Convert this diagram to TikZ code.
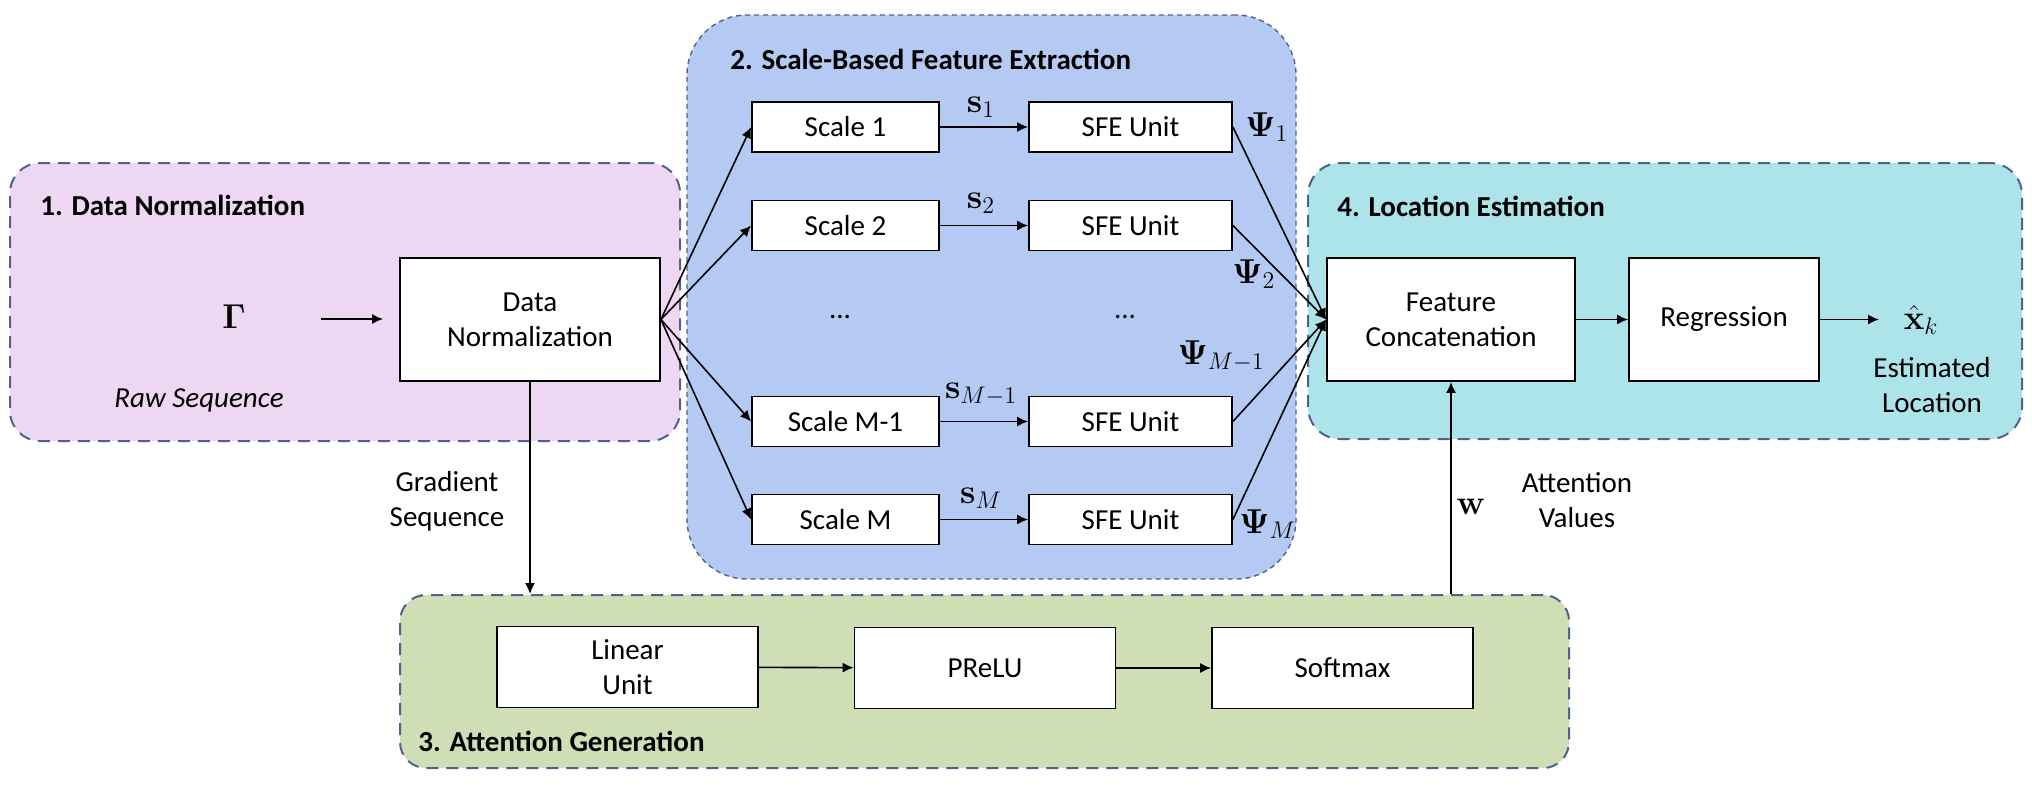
\documentclass[tikz,border=0pt]{standalone}
\usepackage{amsmath,bm}
\usepackage[no-math]{fontspec}
\setmainfont{Carlito}
\usetikzlibrary{arrows.meta,fit}
\definecolor{pinkfill}{HTML}{EED7F3}
\definecolor{bluefill}{HTML}{B4CAF2}
\definecolor{cyanfill}{HTML}{ACE4EA}
\definecolor{greenfill}{HTML}{CFDEB5}
\definecolor{grpline}{HTML}{4F6289}
\begin{document}
\begin{tikzpicture}[x=0.5pt,y=-0.5pt,
  font=\fontsize{14.5}{17.5}\selectfont,
  blk/.style={draw=black, line width=0.9pt, fill=white, inner sep=0pt, align=center},
  scbox/.style={blk, minimum width=93.5pt, minimum height=25pt},
  sfebox/.style={blk, minimum width=101.5pt, minimum height=25pt},
  bigbox/.style={blk, minimum height=61.5pt},
  agbox/.style={blk, minimum width=130.5pt, minimum height=40.5pt},
  grp/.style={draw=grpline, dash pattern=on 6pt off 4pt, line width=1pt, inner sep=0pt},
  grpfine/.style={draw=grpline, dash pattern=on 2.5pt off 2pt, line width=0.7pt, inner sep=0pt},
  arr/.style={-{Latex[length=5.5pt,width=5pt]}, line width=0.8pt},
  ttl/.style={font=\fontsize{14.5}{17.5}\selectfont\bfseries, anchor=west, inner sep=0pt},
  lbl/.style={inner sep=0pt, align=center},
  mlbl/.style={inner sep=0pt, font=\fontsize{16.5}{19}\selectfont}]
\useasboundingbox (0,0) rectangle (2032,794);
% groups
\node[grp, fill=pinkfill, rounded corners=15pt, fit={(10,163)(680,441)}] (g1) {};
\node[grpfine, fill=bluefill, rounded corners=30pt, fit={(687,15)(1296,579)}] (g2) {};
\node[grp, fill=cyanfill, rounded corners=16pt, fit={(1308,163)(2022,439)}] (g4) {};
\node[grp, fill=greenfill, rounded corners=13pt, fit={(400,595)(1569,768)}] (g3) {};
% titles
\node[ttl] (t1) at (40,205) {1. Data Normalization};
\node[ttl] (t2) at (730,59) {2. Scale-Based Feature Extraction};
\node[ttl] (t4) at (1337,206) {4. Location Estimation};
\node[ttl] (t3) at (418,741) {3. Attention Generation};
% group 1
\node[bigbox, minimum width=130pt] (dn) at (530,319.5) {Data\\Normalization};
\node[mlbl] (gam) at (234,317) {$\boldsymbol{\Gamma}$};
\node[lbl] (raw) at (199,400) {\itshape Raw Sequence};
\coordinate (gs) at (321,319);
\draw[arr, shorten >=8pt] (gs) -- (gs -| dn.west);
% group 2
\node[scbox] (sc1) at (845.5,127) {Scale 1};
\node[scbox] (sc2) at (845.5,225.5) {Scale 2};
\node[scbox] (scm1) at (845.5,421.5) {Scale M-1};
\node[scbox] (scm) at (845.5,519.5) {Scale M};
\node[sfebox] (sfe1) at (1130.5,127) {SFE Unit};
\node[sfebox] (sfe2) at (1130.5,225.5) {SFE Unit};
\node[sfebox] (sfem1) at (1130.5,421.5) {SFE Unit};
\node[sfebox] (sfem) at (1130.5,519.5) {SFE Unit};
\node[lbl] (d1) at (840,317) {...};
\node[lbl] (d2) at (1125,317) {...};
\node[mlbl] (s1) at (981,107) {$\mathbf{s}_1$};
\node[mlbl] (s2) at (981,203) {$\mathbf{s}_2$};
\node[mlbl] (sm1) at (981,394) {$\mathbf{s}_{M-1}$};
\node[mlbl] (sm) at (981,498) {$\mathbf{s}_M$};
\node[mlbl, anchor=west] (p1) at (1245,127) {$\boldsymbol{\Psi}_1$};
\node[mlbl, anchor=west] (p2) at (1232,274) {$\boldsymbol{\Psi}_2$};
\node[mlbl, anchor=east] (pm1) at (1265,356) {$\boldsymbol{\Psi}_{M-1}$};
\node[mlbl, anchor=west] (pm) at (1239,524) {$\boldsymbol{\Psi}_M$};
% group 4
\node[bigbox, minimum width=124pt] (cat) at (1451,319.5) {Feature\\Concatenation};
\node[bigbox, minimum width=95pt] (reg) at (1724,319.5) {Regression};
\node[mlbl] (xh) at (1921,320) {$\hat{\mathbf{x}}_k$};
\node[lbl] (est) at (1932,385) {Estimated\\Location};
\coordinate (xend) at (1879,319.5);
% group 3
\node[agbox] (lin) at (627.5,667) {Linear\\Unit};
\node[agbox] (prelu) at (985,668) {PReLU};
\node[agbox] (soft) at (1342.5,668) {Softmax};
% outside labels
\node[lbl] (grad) at (447,501) {Gradient\\Sequence};
\node[mlbl] (w) at (1471,507) {$\mathbf{w}$};
\node[lbl] (att) at (1577,500) {Attention\\Values};
% connectors
\foreach \t in {sc1,sc2,scm1,scm} \draw[arr] (dn.east) -- (\t.west);
\draw[arr] (sc1) -- (sfe1);
\draw[arr] (sc2) -- (sfe2);
\draw[arr] (scm1) -- (sfem1);
\draw[arr] (scm) -- (sfem);
\foreach \t in {sfe1,sfe2,sfem1,sfem} \draw[arr] (\t.east) -- (cat.west);
\draw[arr] (cat) -- (reg);
\draw[arr] (reg.east) -- (xend);
\draw[arr] (lin) -- (prelu);
\draw[arr] (prelu) -- (soft);
\draw[arr] (dn.south) -- (dn.south |- g3.north);
\draw[arr] (cat.south |- g3.north) -- (cat.south);
\end{tikzpicture}
\end{document}
